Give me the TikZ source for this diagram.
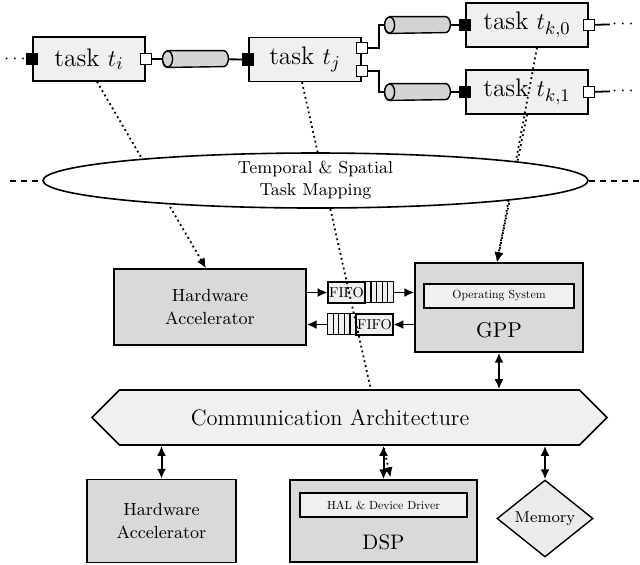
\documentclass[tikz,border=0pt]{standalone}
\usetikzlibrary{arrows.meta,shapes.geometric,shapes.symbols}
\begin{document}
\begin{tikzpicture}[x=0.5pt,y=-0.5pt,>={Latex[length=5pt,width=4.5pt]},
  task/.style={draw,line width=0.7pt,fill=black!6,minimum width=56pt,minimum height=22pt,inner sep=0pt,font=\fontsize{12.7}{14}\selectfont},
  inport/.style={draw,line width=0.6pt,fill=black,minimum size=5.5pt,inner sep=0pt},
  outport/.style={draw,line width=0.6pt,fill=white,minimum size=5.5pt,inner sep=0pt},
  channel/.style={minimum width=32.5pt,minimum height=8pt,inner sep=0pt},
  pipe/.style={line width=0.7pt,fill=black!17},
  conn/.style={line width=0.9pt},
  more/.style={inner sep=1pt,font=\fontsize{9}{10}\selectfont},
  unit/.style={draw,line width=0.7pt,fill=black!15,inner sep=0pt,align=center,font=\fontsize{8.8}{11.5}\selectfont},
  inner/.style={draw,line width=0.7pt,fill=black!6,inner sep=0pt,scale=0.59,font=\fontsize{10}{12}\selectfont},
  fifo/.style={draw,line width=0.6pt,fill=black!6,minimum width=25.7pt,minimum height=14.6pt,inner sep=0pt,scale=0.72,font=\fontsize{10}{12}\selectfont},
  mapline/.style={->,line width=0.9pt,dash pattern=on 0.9pt off 1.6pt},
  biarrow/.style={<->,line width=1pt}]
\useasboundingbox (0,0) rectangle (640,564);
% ---------- tasks ----------
\node[task] (ti) at (89,59) {task $t_i$};
\node[task] (tj) at (305,59.5) {task $t_j$};
\node[task,minimum width=61pt] (tk0) at (527,25) {task $t_{k,0}$};
\node[task,minimum width=61pt] (tk1) at (527,92) {task $t_{k,1}$};
% ports
\node[inport] (ti-in) at (ti.west) {};
\node[outport] (ti-out) at (ti.east) {};
\node[inport] (tj-in) at (tj.west) {};
\node[outport] (tj-out0) at ([yshift=5.75pt]tj.east) {};
\node[outport] (tj-out1) at ([yshift=-5.75pt]tj.east) {};
\node[inport] (tk0-in) at (tk0.west) {};
\node[outport] (tk0-out) at (tk0.east) {};
\node[inport] (tk1-in) at (tk1.west) {};
\node[outport] (tk1-out) at (tk1.east) {};
% channels
\node[channel] (ch0) at (195.5,59) {};
\node[channel] (ch1) at (417.5,25) {};
\node[channel] (ch2) at (417.5,92) {};
\foreach \c in {ch0,ch1,ch2}{
  \draw[pipe] ([xshift=2.5pt]\c.north west) -- ([xshift=-2.5pt]\c.north east)
    arc[start angle=90,end angle=-90,x radius=2.5pt,y radius=4pt]
    -- ([xshift=2.5pt]\c.south west)
    arc[start angle=270,end angle=90,x radius=2.5pt,y radius=4pt] -- cycle;
  \draw[pipe] ([xshift=2.5pt]\c.west) ellipse [x radius=2.5pt,y radius=4pt];
}
\draw[conn] (ti-out) -- (ch0) -- (tj-in);
\draw[conn] (tj-out0.east) -- ++(11,0) |- (ch1.west);
\draw[conn] (tj-out1.east) -- ++(11,0) |- (ch2.west);
\draw[conn] (ch1) -- (tk0-in);
\draw[conn] (ch2) -- (tk1-in);
\node[more] (dl) at (15,59) {$\cdots$};
\node[more] (dr0) at (623,24) {$\cdots$};
\node[more] (dr1) at (623,91) {$\cdots$};
\draw[conn] (tk0-out) -- (dr0);
\draw[conn] (tk1-out) -- (dr1);
% ---------- platform ----------
\node[unit,minimum width=96pt,minimum height=38pt] (hw0) at (210,307) {Hardware\\Accelerator};
\node[unit,minimum width=84pt,minimum height=44.5pt] (gpp) at (499,307.5) {};
\node[inner,minimum width=127pt,minimum height=20.3pt] (os) at (499,296) {Operating System};
\node[font=\fontsize{10.7}{12}\selectfont] (gpp-label) at (499,330) {GPP};
% FIFOs
\node[fifo] (f0) at (346.5,292.5) {FIFO};
\foreach \i in {0,...,4}
  \draw[line width=0.6pt,fill=black!6] ([xshift=\i*2.8pt]f0.north east) rectangle ++(5.6,21);
\coordinate (f0-end) at ([xshift=14pt]f0.east);
\node[fifo] (f1) at (374.5,324.5) {FIFO};
\foreach \i in {1,...,5}
  \draw[line width=0.6pt,fill=black!6] ([xshift=-\i*2.8pt]f1.north west) rectangle ++(5.6,21);
\coordinate (f1-end) at ([xshift=-14pt]f1.west);
\draw[conn,->] (hw0.east |- f0.west) -- (f0.west);
\draw[conn,->] (f0-end) -- (f0-end -| gpp.west);
\draw[conn,->] (gpp.west |- f1.east) -- (f1.east);
\draw[conn,->] (f1-end) -- (f1-end -| hw0.east);
% lower units
\node[unit,minimum width=74.5pt,minimum height=41.5pt] (hw1) at (161.5,521) {Hardware\\Accelerator};
\node[unit,minimum width=93.5pt,minimum height=41pt] (dsp) at (383.5,521) {};
\node[inner,minimum width=141.5pt,minimum height=20.3pt] (hal) at (383.5,505) {HAL \& Device Driver};
\node[font=\fontsize{10.5}{12}\selectfont] (dsp-label) at (383.5,542) {DSP};
\node[diamond,draw,line width=0.7pt,fill=black!8,minimum width=48pt,minimum height=38.5pt,inner sep=0pt,font=\fontsize{7.9}{10}\selectfont] (mem) at (545,518.5) {Memory};
% ---------- mapping ----------
\draw[mapline] ([xshift=4pt]ti.south) -- ([xshift=-2pt]hw0.north);
\draw[mapline] ([xshift=-1.5pt]tj.south) -- ([xshift=3.5pt,yshift=1pt]dsp.north);
\draw[mapline] ([xshift=5pt]tk0.south) -- ([xshift=-1pt]gpp.north);
\draw[mapline] (tk1.south) -- ([xshift=-1pt]gpp.north);
\node[ellipse,draw,fill=white,line width=0.8pt,minimum width=272.5pt,minimum height=27.5pt,inner sep=0pt,align=center,font=\fontsize{8.7}{11}\selectfont] (map) at (315.5,180.5) {Temporal \& Spatial\\Task Mapping};
\coordinate (map-l) at (10,180.5);
\coordinate (map-r) at (640,180.5);
\draw[line width=1pt,dash pattern=on 3pt off 2.5pt] (map-l) -- (map.west);
\draw[line width=1pt,dash pattern=on 3pt off 2.5pt] (map.east) -- (map-r);
% ---------- communication ----------
\node[signal,signal to=west and east,signal pointer angle=90,draw,line width=0.8pt,fill=black!6,minimum width=257.5pt,minimum height=27.5pt,inner sep=0pt] (comm) at (349.5,417.5) {};
\node[font=\fontsize{11.2}{13}\selectfont] (comm-label) at (330,417.5) {Communication Architecture};
\draw[biarrow] (gpp.south) -- (gpp.south |- comm.north);
\draw[biarrow] (hw1.north |- comm.south) -- (hw1.north);
\draw[biarrow] (dsp.north |- comm.south) -- (dsp.north);
\draw[biarrow] (mem.north |- comm.south) -- (mem.north);
\end{tikzpicture}
\end{document}
